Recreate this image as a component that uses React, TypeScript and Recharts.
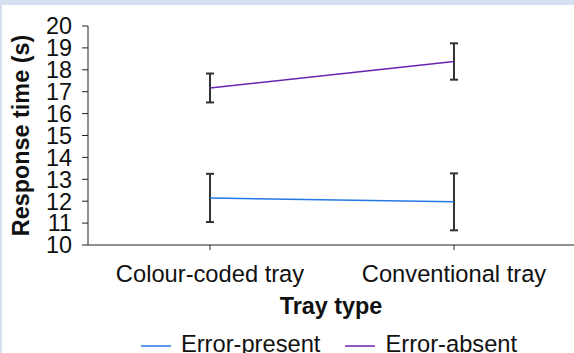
import React from "react";
import { LineChart, Line, XAxis, YAxis, ErrorBar, Legend, Label } from "recharts";

const categories = ["Colour-coded tray", "Conventional tray"];
const errorPresent = [12.15, 11.97];
const errorPresentErr = [1.1, 1.3];
const errorAbsent = [17.17, 18.38];
const errorAbsentErr = [0.66, 0.83];
const yTicks = [10, 11, 12, 13, 14, 15, 16, 17, 18, 19, 20];

const data = categories.map((name, i) => ({
  name,
  present: errorPresent[i],
  presentErr: errorPresentErr[i],
  absent: errorAbsent[i],
  absentErr: errorAbsentErr[i],
}));

const FONT = '"Liberation Sans", Arial, sans-serif';
const BLUE = "#2278e2";
const PURPLE = "#6a22b2";
const AXIS = "#222";

const legendItems = [
  { label: "Error-present", color: BLUE },
  { label: "Error-absent", color: PURPLE },
];

const LegendContent = () => (
  <div
    style={{
      display: "flex",
      justifyContent: "center",
      marginLeft: 84,
      height: 26,
      lineHeight: "26px",
      fontFamily: FONT,
      fontSize: 23.7,
      color: "#111",
    }}
  >
    {legendItems.map((it, i) => (
      <div key={it.label} style={{ display: "flex", alignItems: "center", marginLeft: i ? 25 : 0 }}>
        <svg width={30} height={26} style={{ marginRight: 10 }}>
          <line x1={0} x2={30} y1={15} y2={15} stroke={it.color} strokeWidth={1.5} />
        </svg>
        <span>{it.label}</span>
      </div>
    ))}
  </div>
);

export default function App() {
  return (
    <div style={{ position: "absolute", left: 0, top: 0, width: 574, height: 353, background: "#fff", overflow: "hidden" }}>
      <div style={{ position: "absolute", left: 0, top: 0, width: 574, height: 5, background: "#d6e0f0" }} />
      <div style={{ position: "absolute", left: 0, top: 0, width: 2, height: 353, background: "#d6e0f0" }} />
      <div style={{ position: "absolute", left: 0, top: 0 }}>
        <LineChart width={574} height={353} data={data} margin={{ top: 26, right: 0, bottom: 0, left: 0 }}>
          <XAxis
            dataKey="name"
            padding={{ left: 122, right: 120 }}
            height={82}
            tickSize={5}
            tickMargin={15}
            stroke={AXIS}
            tick={{ fill: "#111", fontSize: 23.7, fontFamily: FONT }}
          >
            <Label
              content={({ viewBox }: any) => (
                <text
                  x={viewBox.x + viewBox.width / 2}
                  y={viewBox.y + 68.5}
                  textAnchor="middle"
                  fontFamily={FONT}
                  fontSize={23.4}
                  fontWeight="bold"
                  fill="#111"
                >
                  Tray type
                </text>
              )}
            />
          </XAxis>
          <YAxis
            domain={[10, 20]}
            ticks={yTicks}
            width={88}
            tickSize={6}
            tickMargin={10}
            interval={0}
            stroke={AXIS}
            tick={{ fill: "#111", fontSize: 23.4, fontFamily: FONT }}
          >
            <Label
              content={({ viewBox }: any) => (
                <text
                  x={29}
                  y={viewBox.y + viewBox.height / 2}
                  transform={`rotate(-90, 29, ${viewBox.y + viewBox.height / 2})`}
                  textAnchor="middle"
                  fontFamily={FONT}
                  fontSize={23.4}
                  fontWeight="bold"
                  fill="#111"
                >
                  Response time (s)
                </text>
              )}
            />
          </YAxis>
          <Legend verticalAlign="bottom" content={LegendContent} wrapperStyle={{ bottom: -4, left: 0, width: 574 }} />
          <Line
            dataKey="present"
            name="Error-present"
            stroke={BLUE}
            strokeWidth={1.5}
            dot={false}
            isAnimationActive={false}
          >
            <ErrorBar dataKey="presentErr" width={4} stroke="#333" strokeWidth={2} direction="y" />
          </Line>
          <Line
            dataKey="absent"
            name="Error-absent"
            stroke={PURPLE}
            strokeWidth={1.5}
            dot={false}
            isAnimationActive={false}
          >
            <ErrorBar dataKey="absentErr" width={4} stroke="#333" strokeWidth={2} direction="y" />
          </Line>
        </LineChart>
      </div>
    </div>
  );
}
